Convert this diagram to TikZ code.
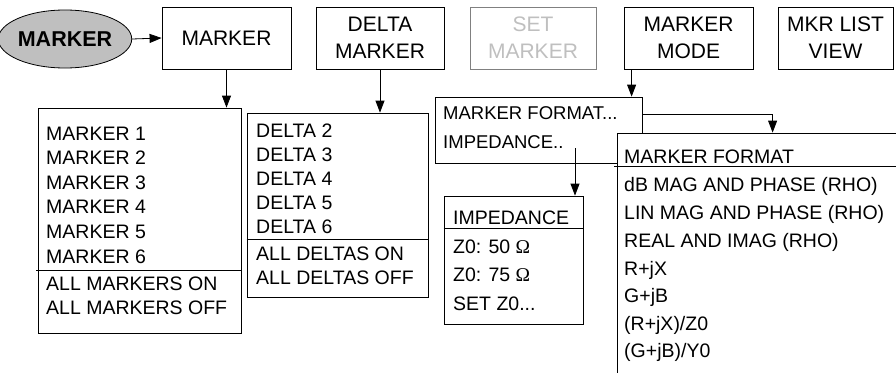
\documentclass[tikz,border=0pt]{standalone}
\usepackage{fontspec}
\setmainfont{Liberation Sans}
\newfontfamily\omegafont{Liberation Serif}
\usetikzlibrary{shapes.geometric,arrows.meta}
\tikzset{
  boxline/.style={line width=0.8pt},
  topbox/.style={draw, boxline, inner sep=0pt, minimum height=62pt, align=center, font=\fontsize{21}{27}\selectfont},
  listbox/.style={draw, boxline, inner sep=0pt, fill=white},
  item/.style={anchor=west, inner sep=0pt, text height=14pt, text depth=0pt, font=\fontsize{19.5}{24}\selectfont},
  itemsm/.style={anchor=west, inner sep=0pt, text height=13pt, text depth=0pt, font=\fontsize{18.5}{24}\selectfont},
  arr/.style={boxline, -{Triangle[length=12pt,width=9pt]}},
  sep/.style={boxline}
}
\newcommand{\ohm}{{\omegafont\char"03A9}}
\begin{document}
\begin{tikzpicture}[x=1pt,y=-1pt]
\useasboundingbox (0,0) rectangle (896,372);
\clip (0,0) rectangle (896,372);

% key ellipse
\node[ellipse, draw, boxline, fill=black!25, minimum width=114pt, minimum height=58pt, inner sep=0pt,
      font=\fontsize{21.5}{27}\selectfont\bfseries] (key) at (65,39) {MARKER};

% top softkey boxes
\node[topbox, minimum width=129pt] (marker) at (226.5,38) {MARKER};
\node[topbox, minimum width=128pt] (delta) at (380,38) {DELTA\\MARKER};
\node[topbox, minimum width=126pt, draw=black!50, text=black!25] (setm) at (533,38) {SET\\MARKER};
\node[topbox, minimum width=129pt] (mode) at (688.5,38) {MARKER\\MODE};
\node[topbox, minimum width=115pt] (mkrlist) at (835.5,38) {MKR LIST\\VIEW};

\draw[arr] (key.east) -- (marker.west);

% marker list
\node[listbox, minimum width=203pt, minimum height=225pt] (mlist) at (139.5,220.5) {};
\draw[sep] (36,270) -- (mlist.east |- 0,270);
\node[item] (m1) at (46,133) {MARKER 1};
\node[item] (m2) at (46,157.6) {MARKER 2};
\node[item] (m3) at (46,182.2) {MARKER 3};
\node[item] (m4) at (46,206.8) {MARKER 4};
\node[item] (m5) at (46,231.4) {MARKER 5};
\node[item] (m6) at (46,256) {MARKER 6};
\node[item] (mon) at (46,283) {ALL MARKERS ON};
\node[item] (moff) at (46,307) {ALL MARKERS OFF};
\draw[arr] (marker.south) -- (marker.south |- mlist.north);

% delta list
\node[listbox, minimum width=181pt, minimum height=184pt] (dlist) at (337.5,205) {};
\draw[sep] (dlist.west |- 0,239) -- (dlist.east |- 0,239);
\node[item] (d2) at (256,130) {DELTA 2};
\node[item] (d3) at (256,154) {DELTA 3};
\node[item] (d4) at (256,178.5) {DELTA 4};
\node[item] (d5) at (256,202.5) {DELTA 5};
\node[item] (d6) at (256,226.5) {DELTA 6};
\node[item] (don) at (256,253) {ALL DELTAS ON};
\node[item] (doff) at (256,277) {ALL DELTAS OFF};
\draw[arr] (delta.south) -- (delta.south |- dlist.north);

% marker mode submenu
\node[listbox, minimum width=207pt, minimum height=66pt] (msub) at (538.5,130) {};
\node[itemsm] (mfmtitem) at (443,113) {MARKER FORMAT...};
\node[itemsm] (impitem) at (443,142) {IMPEDANCE..};
\draw[arr] ([xshift=8pt]mode.south west) -- ([xshift=8pt]mode.south west |- msub.north);

% impedance box
\node[listbox, minimum width=139pt, minimum height=128pt] (imp) at (513.5,260) {};
\draw[sep] (imp.west |- 0,228) -- (imp.east |- 0,228);
\node[item] (ih) at (453,217) {IMPEDANCE};
\node[item] (i50) at (453,246.5) {Z0: 50 \ohm};
\node[item] (i75) at (453,274.5) {Z0: 75 \ohm};
\node[item] (iset) at (453,303) {SET Z0...};
\coordinate (impsrc) at (575,148);
\draw[arr] (impsrc) -- (impsrc |- imp.north);

% marker format box
\node[listbox, minimum width=300pt, minimum height=260pt] (mfmt) at (767,263) {};
\draw[sep] (614,166) -- (896,166);
\node[item] (f0) at (624,156) {MARKER FORMAT};
\node[item] (f1) at (624,184) {dB MAG AND PHASE (RHO)};
\node[item] (f2) at (624,212.5) {LIN MAG AND PHASE (RHO)};
\node[item] (f3) at (624,240) {REAL AND IMAG (RHO)};
\node[item] (f4) at (624,268) {R+jX};
\node[item] (f5) at (624,295.5) {G+jB};
\node[item] (f6) at (624,323) {(R+jX)/Z0};
\node[item] (f7) at (624,350.5) {(G+jB)/Y0};
\draw[arr] ([yshift=-18pt]msub.north east) -| ([xshift=156pt]mfmt.north west);
\end{tikzpicture}
\end{document}
